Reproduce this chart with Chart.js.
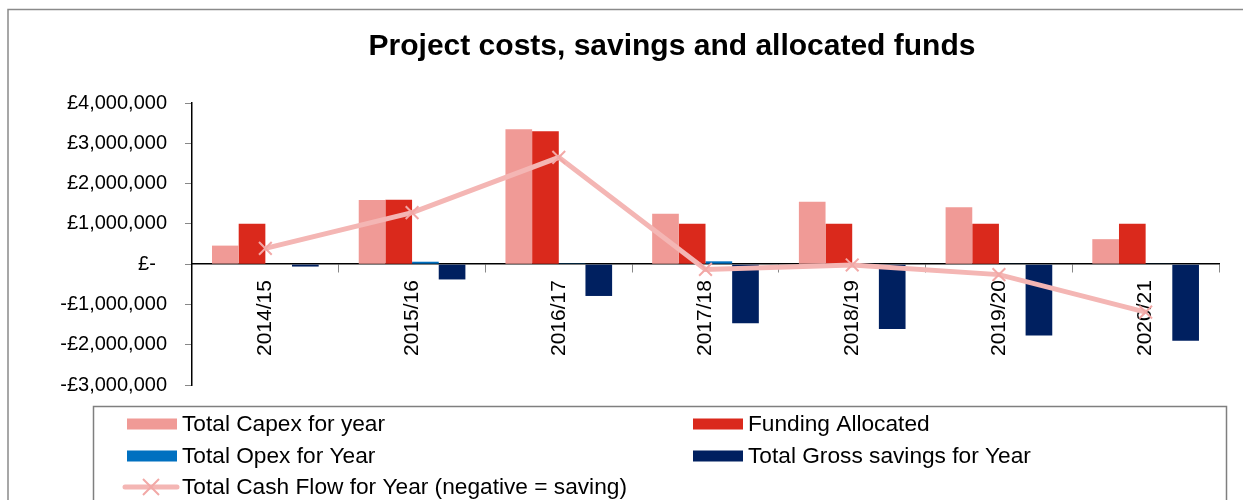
<!DOCTYPE html>
<html>
<head>
<meta charset="utf-8">
<script src="https://cdn.jsdelivr.net/npm/chart.js@4.4.1/dist/chart.umd.min.js"></script>
<style>
  html, body { margin: 0; padding: 0; background: #fff; overflow: hidden; }
  #wrap { position: relative; width: 1243px; height: 500px; }
</style>
</head>
<body>
<div id="wrap"><canvas id="CostChart" width="1243" height="500"></canvas></div>
<script>
const years = ['2014/15', '2015/16', '2016/17', '2017/18', '2018/19', '2019/20', '2020/21'];
const capex = [460000, 1590000, 3350000, 1250000, 1550000, 1410000, 620000];
const funding = [1000000, 1600000, 3300000, 1000000, 1000000, 1000000, 1000000];
const opex = [0, 60000, 20000, 70000, 10000, 15000, 15000];
const savings = [-60000, -380000, -790000, -1470000, -1610000, -1770000, -1900000];
const cashFlow = [390000, 1280000, 2650000, -130000, -20000, -260000, -1190000];

const FONT = "'Liberation Sans', Arial, sans-serif";

function money(v) {
    if (v === 0) return '£-  ';
    let s = '£' + Math.abs(v).toLocaleString('en-GB');
    return v < 0 ? '-' + s : s;
}

// frame, title and the two column legend
const decor = {
    id: 'decor',
    beforeDraw(chart) {
        const ctx = chart.ctx;
        ctx.save();
        ctx.fillStyle = '#fff';
        ctx.fillRect(0, 0, chart.width, chart.height);
        ctx.strokeStyle = '#8a8a8a';
        ctx.lineWidth = 1.5;
        ctx.beginPath();
        ctx.moveTo(8, chart.height);
        ctx.lineTo(8, 9.5);
        ctx.lineTo(chart.width, 9.5);
        ctx.stroke();
        ctx.restore();
    },
    afterDraw(chart) {
        const ctx = chart.ctx;
        const ds = chart.data.datasets;
        ctx.save();
        ctx.fillStyle = '#000';
        ctx.font = 'bold 30px ' + FONT;
        ctx.textAlign = 'center';
        ctx.textBaseline = 'middle';
        ctx.fillText('Project costs, savings and allocated funds', 672, 47);

        // legend box
        ctx.strokeStyle = '#7f7f7f';
        ctx.lineWidth = 1.5;
        ctx.strokeRect(93.5, 406.5, 1133, 120);

        const cols = [127, 693];
        const rows = [424, 456, 487];
        ctx.font = '22.7px ' + FONT;
        ctx.textAlign = 'left';
        ds.forEach(function(d, i) {
            const x = cols[i % 2];
            const y = rows[Math.floor(i / 2)];
            if (d.type === 'line') {
                ctx.strokeStyle = d.borderColor;
                ctx.lineWidth = 5;
                ctx.lineCap = 'round';
                ctx.beginPath();
                ctx.moveTo(x - 2, y);
                ctx.lineTo(x + 50, y);
                ctx.stroke();
                ctx.lineCap = 'butt';
                ctx.strokeStyle = d.pointBorderColor;
                ctx.lineWidth = 2;
                ctx.beginPath();
                ctx.moveTo(x + 16, y - 8); ctx.lineTo(x + 32, y + 8);
                ctx.moveTo(x + 32, y - 8); ctx.lineTo(x + 16, y + 8);
                ctx.stroke();
            } else {
                ctx.fillStyle = d.backgroundColor;
                ctx.fillRect(x, y - 5.5, 50, 11);
            }
            ctx.fillStyle = '#000';
            ctx.fillText(d.label, x + 55, y + 1);
        });
        ctx.restore();
    }
};

let costChart = new Chart(document.getElementById('CostChart').getContext('2d'), {
    type: 'bar',
    data: {
        labels: years,
        datasets: [
            {
                label: 'Total Capex for year',
                data: capex,
                backgroundColor: '#F09A96',
                order: 1
            },
            {
                label: 'Funding Allocated',
                data: funding,
                backgroundColor: '#DA291C',
                order: 1
            },
            {
                label: 'Total Opex for Year',
                data: opex,
                backgroundColor: '#0070C0',
                order: 1
            },
            {
                label: 'Total Gross savings for Year',
                data: savings,
                backgroundColor: '#002060',
                order: 1
            },
            {
                type: 'line',
                label: 'Total Cash Flow for Year (negative = saving)',
                data: cashFlow,
                borderColor: '#F4B6B4',
                borderWidth: 5,
                pointStyle: 'crossRot',
                pointRadius: 9,
                pointBorderWidth: 2,
                pointBorderColor: '#F2A8A6',
                pointBackgroundColor: '#F2A8A6',
                tension: 0,
                order: 0
            }
        ]
    },
    options: {
        responsive: false,
        animation: false,
        devicePixelRatio: 1,
        layout: {
            padding: { left: 40, right: 24, top: 103, bottom: 115 }
        },
        datasets: {
            bar: { categoryPercentage: 0.727, barPercentage: 1.0 }
        },
        scales: {
            x: {
                position: { y: 0 },
                grid: { drawOnChartArea: false, color: '#888', tickLength: 8, offset: true },
                border: { color: '#000', width: 1.5 },
                ticks: {
                    color: '#000',
                    font: { family: FONT, size: 21 },
                    minRotation: 90,
                    maxRotation: 90,
                    autoSkip: false,
                    padding: 8
                }
            },
            y: {
                min: -3000000,
                max: 4000000,
                afterFit: function(s) { s.width = 152; },
                grid: { drawOnChartArea: false, color: '#888', tickLength: 7 },
                border: { color: '#000', width: 1.5 },
                ticks: {
                    stepSize: 1000000,
                    color: '#000',
                    padding: 18,
                    font: { family: FONT, size: 20 },
                    callback: function(v) { return money(v); }
                }
            }
        },
        plugins: {
            legend: { display: false },
            title: { display: false },
            tooltip: { enabled: false }
        }
    },
    plugins: [decor]
});
</script>
</body>
</html>
